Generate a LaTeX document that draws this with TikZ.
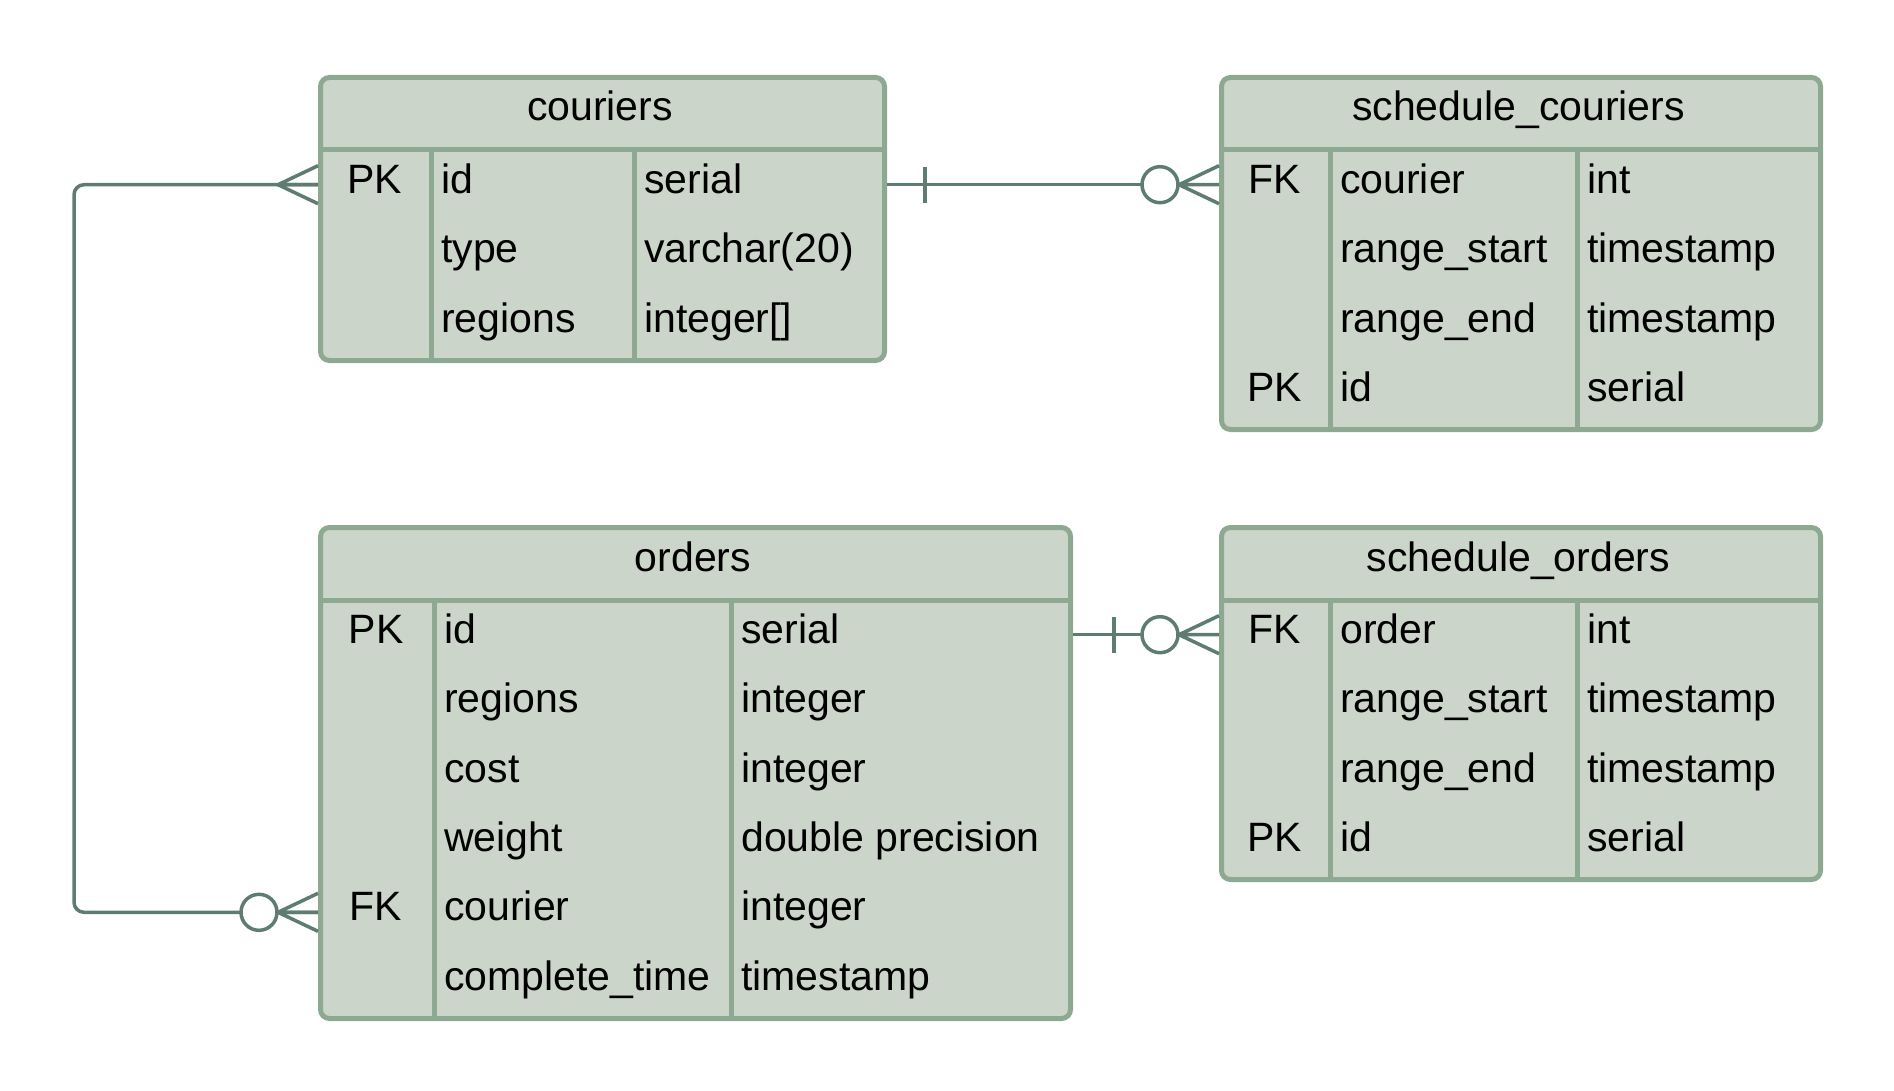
\documentclass[tikz,border=0pt]{standalone}
\usepackage{fontspec}
\setmainfont{Liberation Sans}
\usetikzlibrary{positioning, calc}
\definecolor{erFill}{HTML}{CCD5C9}
\definecolor{erBorder}{HTML}{8EA992}
\definecolor{erLine}{HTML}{5F7C73}
\tikzset{
  tbl/.style={draw=erBorder, fill=erFill, line width=5pt, rounded corners=9pt,
    anchor=north west, inner sep=0pt},
  tblsep/.style={draw=erBorder, line width=5pt},
  cell/.style={font=\fontsize{41}{49}\selectfont, inner sep=0pt,
    text height=29pt, text depth=12pt},
  title/.style={cell, anchor=center},
  keycell/.style={cell, anchor=center},
  namecell/.style={cell, anchor=west},
  rel/.style={draw=erLine, line width=3.5pt},
  pics/crowmany/.style={code={
    \draw[rel] (0,-19) -- (-40,0) -- (0,19) (-40,0) -- (0,0);}},
  pics/zeromany/.style={code={
    \draw[rel] (0,-19) -- (-40,0) -- (0,19) (-40,0) -- (0,0);
    \draw[rel, fill=white] (-59,0) circle[radius=18pt];}},
  pics/onebar/.style={code={
    \draw[rel] (0,-18) -- (0,18);}}
}

\begin{document}
\begin{tikzpicture}[x=1pt, y=-1pt]
  \useasboundingbox (0,0) rectangle (1894,1091);

  % couriers
  \node[tbl, minimum width=564, minimum height=283] (cour) at (318,75) {};
  \node[title] (cour-h) at (600,112.5) {couriers};
  \draw[tblsep] (318,150) -- (882,150) (431,150) -- (431,358) (634,150) -- (634,358);
  \foreach \key/\fld/\typ [count=\i] in {PK/id/serial, /type/varchar(20), /regions/integer[]}{
    \node[keycell] (cour-k\i) at (374.5, {150+69.4*\i-34.7}) {\key};
    \node[namecell] (cour-\i) at (441, {150+69.4*\i-34.7}) {\fld};
    \node[namecell] (cour-t\i) at (644, {150+69.4*\i-34.7}) {\typ};
  }

  % schedule_couriers
  \node[tbl, minimum width=599, minimum height=352] (sc) at (1219,75) {};
  \node[title] (sc-h) at (1518.5,112.5) {schedule\_couriers};
  \draw[tblsep] (1219,150) -- (1818,150) (1330,150) -- (1330,427) (1577,150) -- (1577,427);
  \foreach \key/\fld/\typ [count=\i] in {FK/courier/int, /range\_start/timestamp,
      /range\_end/timestamp, PK/id/serial}{
    \node[keycell] (sc-k\i) at (1274.5, {150+69.4*\i-34.7}) {\key};
    \node[namecell] (sc-\i) at (1340, {150+69.4*\i-34.7}) {\fld};
    \node[namecell] (sc-t\i) at (1587, {150+69.4*\i-34.7}) {\typ};
  }

  % orders
  \node[tbl, minimum width=750, minimum height=491] (ord) at (318,525) {};
  \node[title] (ord-h) at (693,562.5) {orders};
  \draw[tblsep] (318,600) -- (1068,600) (434,600) -- (434,1016) (731,600) -- (731,1016);
  \foreach \key/\fld/\typ [count=\i] in {PK/id/serial, /regions/integer, /cost/integer,
      /weight/double precision, FK/courier/integer, /complete\_time/timestamp}{
    \node[keycell] (ord-k\i) at (376, {600+69.4*\i-34.7}) {\key};
    \node[namecell] (ord-\i) at (444, {600+69.4*\i-34.7}) {\fld};
    \node[namecell] (ord-t\i) at (741, {600+69.4*\i-34.7}) {\typ};
  }

  % schedule_orders
  \node[tbl, minimum width=599, minimum height=352] (so) at (1219,525) {};
  \node[title] (so-h) at (1518.5,562.5) {schedule\_orders};
  \draw[tblsep] (1219,600) -- (1818,600) (1330,600) -- (1330,877) (1577,600) -- (1577,877);
  \foreach \key/\fld/\typ [count=\i] in {FK/order/int, /range\_start/timestamp,
      /range\_end/timestamp, PK/id/serial}{
    \node[keycell] (so-k\i) at (1274.5, {600+69.4*\i-34.7}) {\key};
    \node[namecell] (so-\i) at (1340, {600+69.4*\i-34.7}) {\fld};
    \node[namecell] (so-t\i) at (1587, {600+69.4*\i-34.7}) {\typ};
  }

  % relations
  \coordinate (bend) at (74,0);
  \draw[rel, rounded corners=10pt] (cour.west |- cour-1) -| (bend |- ord-5) -- (ord.west |- ord-5);
  \pic at (cour.west |- cour-1) {crowmany};
  \pic at (ord.west |- ord-5) {zeromany};

  \draw[rel] (cour.east |- cour-1) -- (sc.west |- sc-1);
  \pic at ($(cour.east |- cour-1)+(38,0)$) {onebar};
  \pic at (sc.west |- sc-1) {zeromany};

  \draw[rel] (ord.east |- ord-1) -- (so.west |- so-1);
  \pic at ($(ord.east |- ord-1)+(41,0)$) {onebar};
  \pic at (so.west |- so-1) {zeromany};
\end{tikzpicture}
\end{document}
